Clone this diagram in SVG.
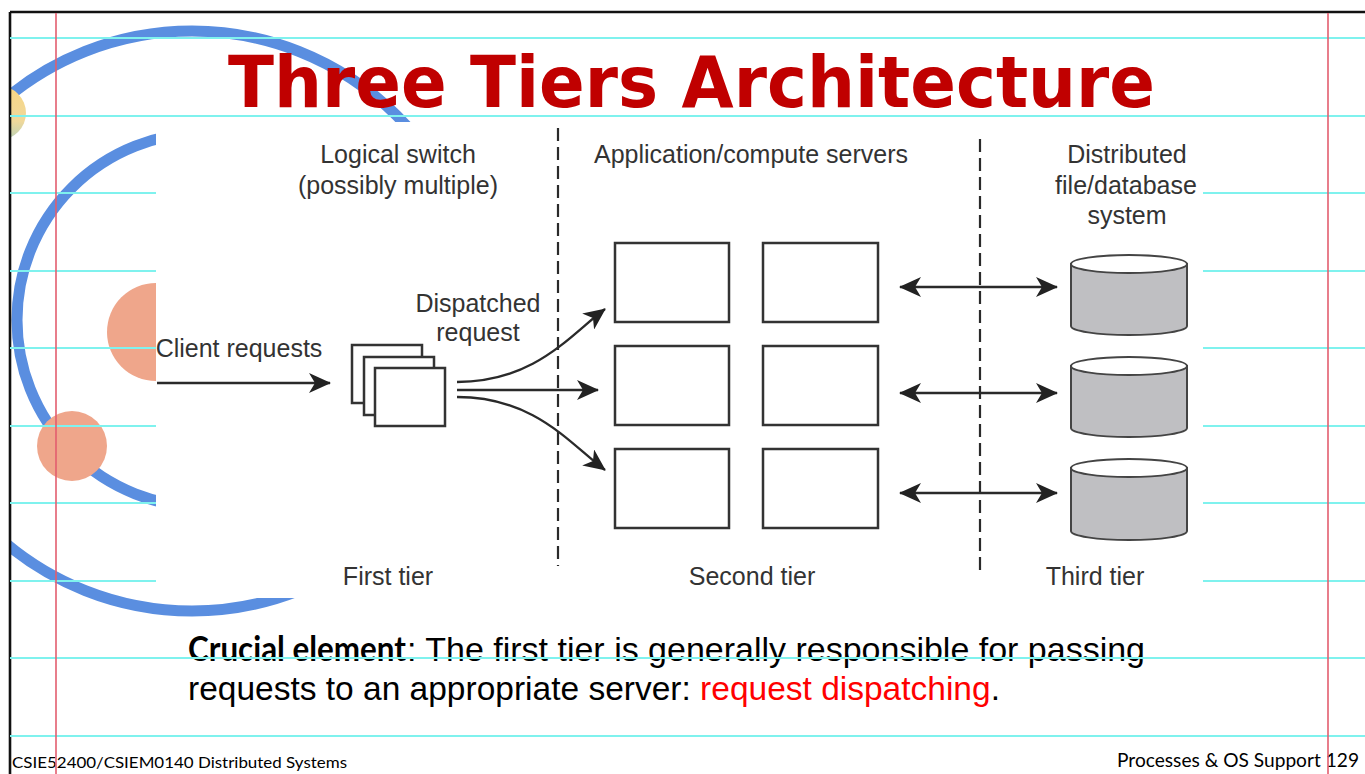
<svg xmlns="http://www.w3.org/2000/svg" width="1365" height="774" viewBox="0 0 1365 774">
  <defs>
    <style>
      .rule { stroke: #7ff2ee; stroke-width: 2; }
      .margin { stroke: #e35d6e; stroke-width: 1.6; }
      .arc { fill: none; stroke: #5a8ee0; stroke-width: 11; }
      .lbl { font-family: "Liberation Sans", Arial, sans-serif; font-size: 25px; fill: #333; text-anchor: middle; }
      .box { fill: #fff; stroke: #333; stroke-width: 2.5; }
      .conn { fill: none; stroke: #2a2a2a; stroke-width: 2.3; }
      .dash { fill: none; stroke: #2a2a2a; stroke-width: 2.2; stroke-dasharray: 13 6; }
      .cyl { fill: #bfbfc2; stroke: #444; stroke-width: 2; }
      .cyltop { fill: #fff; stroke: #444; stroke-width: 2; }
      .body { font-family: "Liberation Sans", Arial, sans-serif; font-size: 33.5px; fill: #000; }
    </style>
    <marker id="ah" viewBox="0 0 22 20" refX="21" refY="10" markerWidth="22" markerHeight="20" markerUnits="userSpaceOnUse" orient="auto-start-reverse">
      <path d="M0,0 L22,10 L0,20 L6,10 z" fill="#222"/>
    </marker>
    <clipPath id="slide">
      <rect x="10" y="12" width="1355" height="762"/>
    </clipPath>
    <linearGradient id="sun" x1="0" y1="0" x2="0" y2="1">
      <stop offset="0" stop-color="#f7d684"/>
      <stop offset="0.65" stop-color="#f0d89a"/>
      <stop offset="1" stop-color="#b9d2b8"/>
    </linearGradient>
  </defs>

  <rect x="0" y="0" width="1365" height="774" fill="#fff"/>

  <!-- decorative orbit arcs and dots -->
  <g id="decor" clip-path="url(#slide)">
    <circle class="arc" cx="192" cy="321" r="290"/>
    <circle class="arc" cx="204" cy="320" r="187"/>
    <circle cx="-1" cy="113" r="27" fill="url(#sun)"/>
    <circle cx="156" cy="332" r="49" fill="#efa68b"/>
    <circle cx="72" cy="446" r="35" fill="#efa68b"/>
  </g>

  <!-- slide frame -->
  <g id="frame" fill="none" stroke="#111" stroke-width="2.6">
    <line x1="10" y1="12" x2="1365" y2="12"/>
    <line x1="10" y1="12" x2="10" y2="774"/>
  </g>

  <!-- title -->
  <text id="title" x="228" y="107" font-family="DejaVu Sans, Verdana, sans-serif" font-weight="bold" font-size="71" fill="#c00000" textLength="927" lengthAdjust="spacingAndGlyphs">Three Tiers Architecture</text>

  <!-- caption -->
  <g id="caption">
    <text x="188" y="661" font-family="Lato, Calibri, sans-serif" font-weight="bold" font-size="33.5" fill="#000" textLength="218" lengthAdjust="spacingAndGlyphs">Crucial element</text>
    <text class="body" x="407" y="661" textLength="738" lengthAdjust="spacingAndGlyphs">: The first tier is generally responsible for passing</text>
    <text class="body" x="188" y="700">requests to an appropriate server: <tspan fill="#ff0000">request dispatching</tspan>.</text>
  </g>

  <!-- footer -->
  <g id="footer" font-family="Lato, Calibri, sans-serif" fill="#000">
    <text x="12" y="768" font-size="16" textLength="335" lengthAdjust="spacingAndGlyphs">CSIE52400/CSIEM0140 Distributed Systems</text>
    <text x="1117" y="767" font-size="19" textLength="242" lengthAdjust="spacingAndGlyphs">Processes &amp; OS Support 129</text>
  </g>

  <!-- notebook ruling -->
  <g id="ruling">
    <line class="rule" x1="10" y1="38" x2="1365" y2="38"/>
    <line class="rule" x1="10" y1="116" x2="1365" y2="116"/>
    <line class="rule" x1="10" y1="193" x2="1365" y2="193"/>
    <line class="rule" x1="10" y1="271" x2="1365" y2="271"/>
    <line class="rule" x1="10" y1="348" x2="1365" y2="348"/>
    <line class="rule" x1="10" y1="426" x2="1365" y2="426"/>
    <line class="rule" x1="10" y1="503" x2="1365" y2="503"/>
    <line class="rule" x1="10" y1="581" x2="1365" y2="581"/>
    <line class="rule" x1="10" y1="658" x2="1365" y2="658"/>
    <line class="rule" x1="10" y1="736" x2="1365" y2="736"/>
    <line class="margin" x1="56" y1="13" x2="56" y2="774"/>
    <line class="margin" x1="1328" y1="13" x2="1328" y2="774"/>
  </g>

  <!-- diagram panel -->
  <rect id="panel" x="156" y="122" width="1047" height="476" fill="#fff"/>

  <!-- tier separators -->
  <g id="separators">
    <line class="dash" x1="558" y1="128" x2="558" y2="566"/>
    <line class="dash" x1="980" y1="139" x2="980" y2="572"/>
  </g>

  <!-- labels -->
  <g id="labels">
    <text class="lbl" x="398" y="163">Logical switch</text>
    <text class="lbl" x="398" y="194">(possibly multiple)</text>
    <text class="lbl" x="751" y="163">Application/compute servers</text>
    <text class="lbl" x="1127" y="163">Distributed</text>
    <text class="lbl" x="1126" y="194">file/database</text>
    <text class="lbl" x="1127" y="224">system</text>
    <text class="lbl" x="478" y="312">Dispatched</text>
    <text class="lbl" x="478" y="341">request</text>
    <text class="lbl" x="239" y="357">Client requests</text>
    <text class="lbl" x="388" y="585">First tier</text>
    <text class="lbl" x="752" y="585">Second tier</text>
    <text class="lbl" x="1095" y="585">Third tier</text>
  </g>

  <!-- logical switch: stacked frames -->
  <g id="switch">
    <rect class="box" x="352" y="345" width="70" height="58"/>
    <rect class="box" x="364" y="357" width="70" height="58"/>
    <rect class="box" x="375" y="368" width="70" height="58"/>
  </g>

  <!-- application / compute servers -->
  <g id="servers">
    <rect class="box" x="615" y="243" width="114" height="79"/>
    <rect class="box" x="763" y="243" width="115" height="79"/>
    <rect class="box" x="615" y="346" width="114" height="79"/>
    <rect class="box" x="763" y="346" width="115" height="79"/>
    <rect class="box" x="615" y="449" width="114" height="79"/>
    <rect class="box" x="763" y="449" width="115" height="79"/>
  </g>

  <!-- file / database stores -->
  <g id="db1">
    <path class="cyl" d="M1071,264 L1071,326 A58,9 0 0 0 1187,326 L1187,264 Z"/>
    <ellipse class="cyltop" cx="1129" cy="264" rx="58" ry="9"/>
  </g>
  <g id="db2">
    <path class="cyl" d="M1071,366 L1071,428 A58,9 0 0 0 1187,428 L1187,366 Z"/>
    <ellipse class="cyltop" cx="1129" cy="366" rx="58" ry="9"/>
  </g>
  <g id="db3">
    <path class="cyl" d="M1071,468 L1071,531 A58,9 0 0 0 1187,531 L1187,468 Z"/>
    <ellipse class="cyltop" cx="1129" cy="468" rx="58" ry="9"/>
  </g>

  <!-- connectors -->
  <g id="connectors">
    <line class="conn" x1="157" y1="383" x2="330" y2="383" marker-end="url(#ah)"/>
    <path class="conn" d="M457,382 C535,382 570,335 605,309" marker-end="url(#ah)"/>
    <line class="conn" x1="457" y1="390" x2="598" y2="390" marker-end="url(#ah)"/>
    <path class="conn" d="M457,397 C535,397 570,444 605,470" marker-end="url(#ah)"/>
    <line class="conn" x1="900" y1="287" x2="1057" y2="287" marker-start="url(#ah)" marker-end="url(#ah)"/>
    <line class="conn" x1="900" y1="393" x2="1057" y2="393" marker-start="url(#ah)" marker-end="url(#ah)"/>
    <line class="conn" x1="900" y1="493" x2="1057" y2="493" marker-start="url(#ah)" marker-end="url(#ah)"/>
  </g>
</svg>
